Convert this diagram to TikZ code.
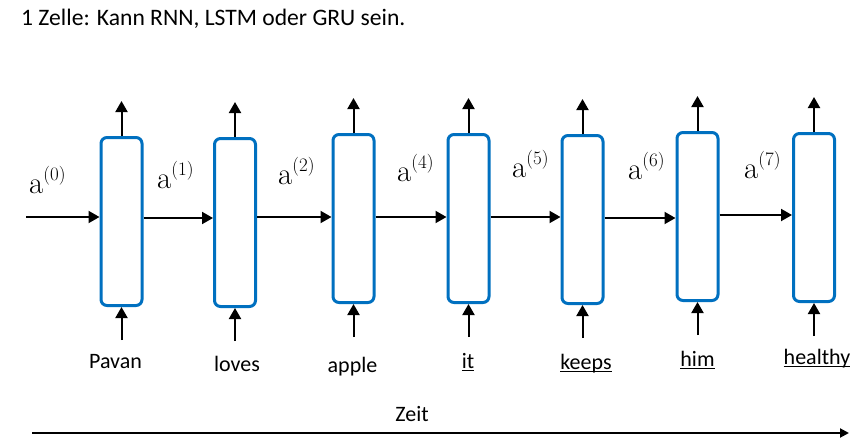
\documentclass[tikz,border=0pt]{standalone}
\usepackage{fontspec}
\newfontfamily\carl{Carlito}
\usetikzlibrary{arrows.meta}
\definecolor{cellblue}{HTML}{0070C0}
\newcommand{\myul}[1]{\setbox0\hbox{#1}\rlap{\rule[-3pt]{\wd0}{1.3pt}}\box0}
\newcommand{\alab}[1]{{\fontsize{31}{36}\selectfont a}\raisebox{13pt}{\fontsize{19}{22}\selectfont(#1)}}
\tikzset{
  cell/.style={draw=cellblue, line width=3pt, rounded corners=6pt, minimum width=41pt, minimum height=168pt, inner sep=0pt, fill=white},
  arr/.style={line width=2pt, -{Triangle[length=11pt,width=12pt]}},
  tarr/.style={line width=2pt, -{Triangle[length=9pt,width=9pt]}},
  alabel/.style={anchor=base west, inner sep=0pt},
  word/.style={anchor=base, inner sep=0pt, font=\carl\fontsize{22}{26}\selectfont},
}
\begin{document}
\begin{tikzpicture}[x=1pt,y=-1pt]
\useasboundingbox (0,0) rectangle (865,447);
\node[anchor=base west, inner sep=0pt, font=\carl\fontsize{23.6}{28}\selectfont] (title) at (21,25) {1 Zelle: Kann RNN, LSTM oder GRU sein.};
% cells
\node[cell] (b1) at (121.5,221.5) {};
\node[cell] (b2) at (235,222.5) {};
\node[cell] (b3) at (353.5,218.5) {};
\node[cell] (b4) at (468.5,218.5) {};
\node[cell] (b5) at (582.5,219.5) {};
\node[cell] (b6) at (697.5,216.5) {};
\node[cell] (b7) at (814,217.5) {};
% outputs and inputs
\foreach \b in {b1,b2,b3,b4,b5,b6,b7}{
  \coordinate (\b top) at ([yshift=35pt]\b.north);
  \coordinate (\b bot) at ([yshift=-33pt]\b.south);
  \draw[arr] (\b.north) -- (\b top);
  \draw[arr] (\b bot) -- (\b.south);
}
% recurrent connections
\coordinate (start) at (26,217);
\draw[arr] (start) -- (start -| b1.west);
\draw[arr] (b1.east |- 0,218) -- (b2.west |- 0,218);
\draw[arr] (b2.east |- 0,217) -- (b3.west |- 0,217);
\draw[arr] (b3.east |- 0,217) -- (b4.west |- 0,217);
\draw[arr] (b4.east |- 0,217) -- (b5.west |- 0,217);
\draw[arr] (b5.east |- 0,218) -- (b6.west |- 0,218);
\draw[arr] (b6.east |- 0,215) -- (b7.west |- 0,215);
% state labels
\node[alabel] (l0) at (29,193) {\alab{0}};
\node[alabel] (l1) at (157,188) {\alab{1}};
\node[alabel] (l2) at (278,184) {\alab{2}};
\node[alabel] (l4) at (397,181) {\alab{4}};
\node[alabel] (l5) at (512,177) {\alab{5}};
\node[alabel] (l6) at (628,179) {\alab{6}};
\node[alabel] (l7) at (744,178) {\alab{7}};
% words
\node[word] (w1) at (115.5,368) {Pavan};
\node[word] (w2) at (237,371) {loves};
\node[word] (w3) at (352.5,372) {apple};
\node[word] (w4) at (468,368) {\myul{it}};
\node[word] (w5) at (586,369) {\myul{keeps}};
\node[word] (w6) at (697.5,366) {\myul{him}};
\node[word] (w7) at (817,364) {\myul{healthy}};
% time axis
\node[word] (zeit) at (412,421) {Zeit};
\coordinate (t0) at (32,433);
\coordinate (t1) at (849,433);
\draw[tarr] (t0) -- (t1);
\end{tikzpicture}
\end{document}
